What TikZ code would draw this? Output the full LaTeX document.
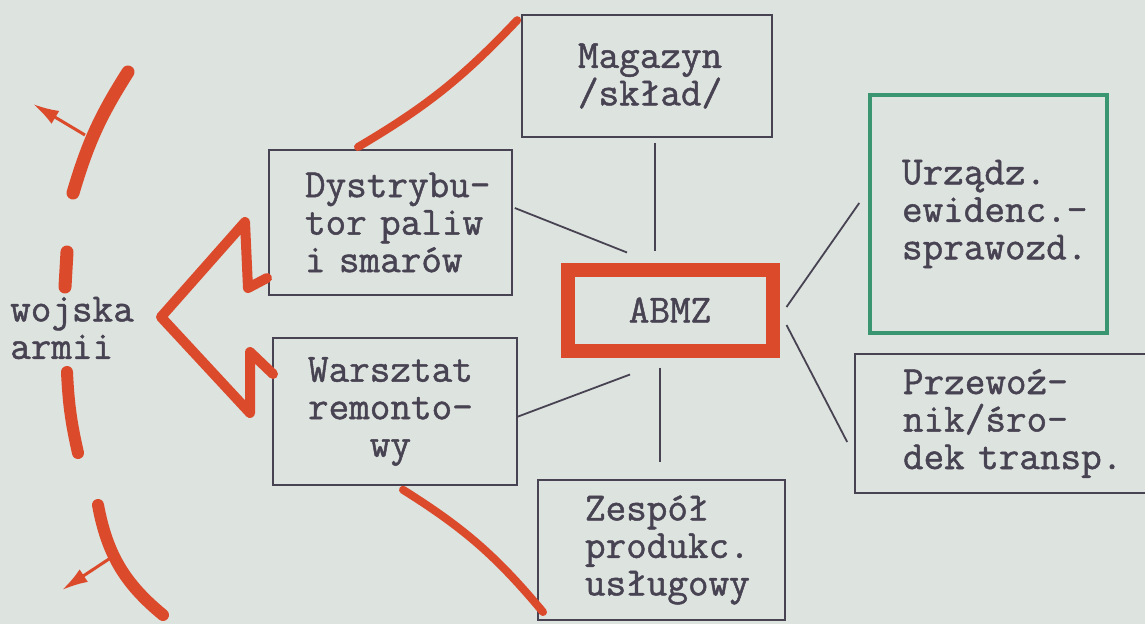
\documentclass[tikz,border=0pt]{standalone}
\usepackage{fontspec}
\setmonofont{Latin Modern Mono}[FakeBold=1.2]
\usetikzlibrary{arrows.meta}

\definecolor{paper}{RGB}{221,227,222}
\definecolor{ink}{RGB}{72,67,82}
\definecolor{marker}{RGB}{220,74,44}
\definecolor{greenpen}{RGB}{58,150,112}

\begin{document}
\begin{tikzpicture}[x=1pt, y=-1pt,
    every node/.style={font=\ttfamily\fontsize{40}{37.5}\selectfont, text=ink},
    box/.style={draw=ink, line width=2.6pt, align=left, inner ysep=0pt},
    link/.style={draw=ink, line width=1.8pt},
    pen/.style={draw=marker, line cap=round, line join=round},
    penarrow/.style={draw=marker, line width=3pt, -{Latex[length=26pt,width=15pt]}}]

% paper
\fill[paper] (0,0) rectangle (1145,624);
\useasboundingbox (0,0) rectangle (1145,624);

% boxes
\node[box, minimum width=250pt, minimum height=122pt, text width=138pt, inner xsep=56pt] (mag) at (647,76) {Magazyn\\/skład/};
\node[box, minimum width=243pt, minimum height=145pt, text width=171pt, inner xsep=36pt] (dys) at (390.5,222.5) {Dystrybu-\\tor~paliw\\i~smarów};
\node[box, minimum width=244pt, minimum height=147pt, text width=174pt, inner xsep=35pt] (war) at (395,411.5) {Warsztat\\remonto-\\\phantom{rem}wy};
\node[box, minimum width=247pt, minimum height=140pt, text width=153pt, inner xsep=47pt] (zes) at (661.5,550) {Zespół\\produkc.\\usługowy};
\node[box, draw=greenpen, line width=4.5pt, minimum width=237pt, minimum height=238pt, text width=173pt, inner xsep=32pt] (urz) at (988.5,214) {Urządz.\\ewidenc.-\\sprawozd.};
\node[box, minimum width=300pt, minimum height=139pt, text width=204pt, inner xsep=48pt] (prz) at (1005,423.5) {Przewoź-\\nik/śro-\\dek~transp.};

% centre
\node[draw=marker, line width=14pt, minimum width=205pt, minimum height=81pt] (abmz) at (670,310) {ABMZ};

% left label
\node[align=left, anchor=west, inner sep=0pt] (woj) at (10,328) {wojska\\armii};

% connecting lines
\draw[link] ([xshift=8pt,yshift=-4.5pt]mag.south) -- ([xshift=-15pt,yshift=12pt]abmz.north);
\draw[link] ([xshift=1.5pt,yshift=14.5pt]dys.east) -- ([xshift=-43pt,yshift=10pt]abmz.north);
\draw[link] ([xshift=-1.5pt,yshift=-5.5pt]war.east) -- ([xshift=-40pt,yshift=-17pt]abmz.south);
\draw[link] ([xshift=-10pt,yshift=-10pt]abmz.south) -- ([xshift=-1.5pt,yshift=16.5pt]zes.north);
\draw[link] ([xshift=7pt,yshift=3pt]abmz.east) -- ([xshift=-8.5pt,yshift=11pt]urz.west);
\draw[link] ([xshift=7pt,yshift=-15pt]abmz.east) -- ([xshift=-6.5pt,yshift=-18.5pt]prz.west);

% red marks
\draw[pen, line width=8pt] ([xshift=-32.5pt,yshift=1.7pt]dys.north) to[bend right=8] ([xshift=-3.5pt,yshift=-6.5pt]mag.north west);
\draw[pen, line width=8pt] ([xshift=8pt,yshift=-3.5pt]war.south) to[bend left=9] ([xshift=6.3pt,yshift=9.3pt]zes.south west);
\draw[pen, line width=10pt] (267,278) -- (248,288) -- (245,222) -- (161,317) -- (250,413) -- (250,352) -- (273,374);

\draw[pen, line width=13pt] (128,72) to[bend right=8] (73,193);
\draw[penarrow] (85,135) -- (33,104);
\draw[pen, line width=13pt] (67,252) -- (65,287);
\draw[pen, line width=12pt] (67,372) to[bend right=5] (78,453);
\draw[pen, line width=12pt] (98,505) to[bend right=20] (163,615);
\draw[penarrow] (112,557) -- (62,590);

\end{tikzpicture}
\end{document}
